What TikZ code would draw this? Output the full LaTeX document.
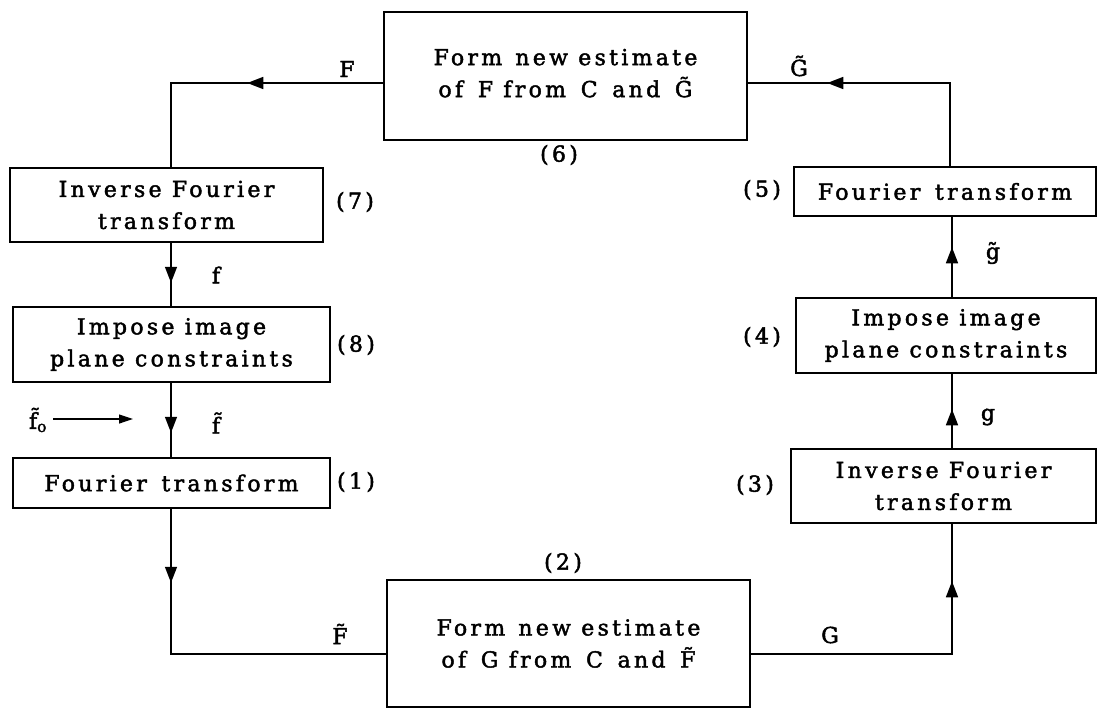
\documentclass[tikz,border=0pt]{standalone}
\usepackage{fontspec}
\setmainfont{DejaVu Serif}[LetterSpace=15, FakeBold=2]
\usetikzlibrary{arrows.meta,decorations.markings}
\begin{document}
\begin{tikzpicture}[x=1pt,y=-1pt,
  font=\fontsize{22}{32}\selectfont,
  box/.style={draw, line width=1.5pt, align=center, inner sep=0pt},
  conn/.style={line width=1.5pt},
  arrowat/.style={postaction={decorate}, decoration={markings, mark=at position #1 with {\arrow{Triangle[length=16pt,width=12pt]}}}},
  lab/.style={inner sep=0pt}]
\useasboundingbox (0,0) rectangle (1098,709);
% boxes
\node[box, minimum width=363pt, minimum height=128pt] (b6) at (565.5,76) {Form\hspace{0.6em}new estimate\\of\hspace{0.2em} F from\hspace{0.2em} C\hspace{0.2em} and\hspace{0.2em} \~G\\[-26pt]\mbox{}};
\node[box, minimum width=313pt, minimum height=74pt] (b7) at (166.5,205) {Inverse Fourier\\transform};
\node[box, minimum width=317pt, minimum height=75pt] (b8) at (171.5,344.5) {Impose image\\plane constraints};
\node[box, minimum width=317pt, minimum height=50pt] (b1) at (171.5,483) {Fourier\hspace{0.2em} transform};
\node[box, minimum width=363pt, minimum height=127pt] (b2) at (568.5,643.5) {Form\hspace{0.6em}new estimate\\of\hspace{0.2em} G from\hspace{0.2em} C\hspace{0.2em} and\hspace{0.2em} \~F};
\node[box, minimum width=302pt, minimum height=49pt] (b5) at (945,191.5) {Fourier\hspace{0.2em} transform};
\node[box, minimum width=300pt, minimum height=75pt] (b4) at (946,335.5) {Impose image\\plane constraints};
\node[box, minimum width=305pt, minimum height=74pt] (b3) at (943.5,486) {Inverse Fourier\\transform};
% labels
\node[lab] (lF) at (347,69) {F};
\node[lab] (lGt) at (799,66) {\~G};
\node[lab] (n6) at (559,155) {(6)};
\node[lab] (n7) at (355,202) {(7)};
\node[lab] (lf) at (216,275) {f};
\node[lab] (n8) at (356,345) {(8)};
\node[lab] (lf0) at (38,420) {\~f\textsubscript{o}};
\node[lab] (lft) at (216,423) {\~f};
\node[lab] (n1) at (356,482) {(1)};
\node[lab] (n2) at (563,563) {(2)};
\node[lab] (lFt) at (340,634) {\~F};
\node[lab] (lG) at (830,635) {G};
\node[lab] (n3) at (755,485) {(3)};
\node[lab] (lg) at (988,417) {g};
\node[lab] (n4) at (762,337) {(4)};
\node[lab] (lgt) at (993,253) {\~g};
\node[lab] (n5) at (762,190) {(5)};
% connectors
\coordinate (cF) at (171,83);
\coordinate (cG) at (950,83);
\coordinate (cFt) at (171,654);
\coordinate (cGb) at (952,654);
\coordinate (f0e) at (133,419);
\draw[conn, arrowat=136pt] (b6.west |- cF) -- (cF) -- (cF |- b7.north);
\draw[conn, arrowat=206pt] (cG |- b5.north) -- (cG) -- (b6.east |- cG);
\draw[conn, arrowat=40pt] (b7.south -| cF) -- (b8.north -| cF);
\draw[conn, arrowat=50pt] (b8.south -| cF) -- (b1.north -| cF);
\draw[conn, arrowat=74pt] (b1.south -| cFt) -- (cFt) -- (b2.west |- cFt);
\draw[conn, arrowat=274pt] (b2.east |- cGb) -- (cGb) -- (cGb |- b3.south);
\draw[conn, arrowat=39pt] (b3.north -| cGb) -- (b4.south -| cGb);
\draw[conn, arrowat=50pt] (b4.north -| cGb) -- (b5.south -| cGb);
\draw[line width=1.2pt, -{Triangle[length=14pt,width=9pt]}] ([xshift=6pt]lf0.east |- f0e) -- (f0e);
\end{tikzpicture}
\end{document}
